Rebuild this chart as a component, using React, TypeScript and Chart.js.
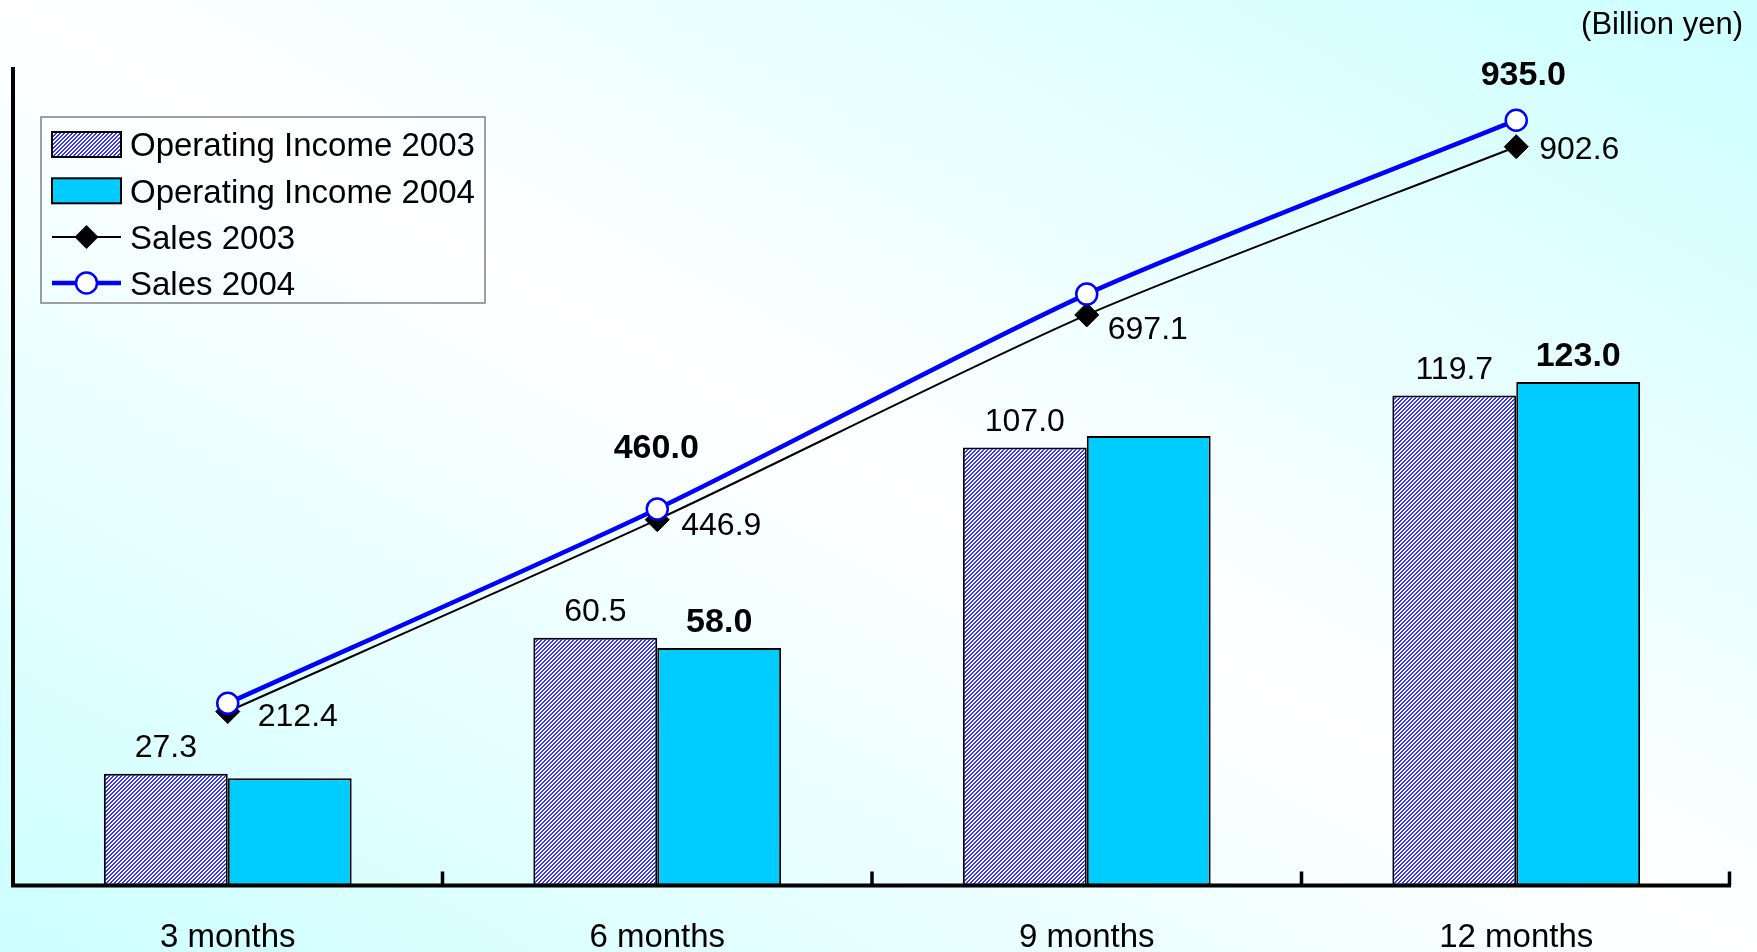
import React, { useEffect, useRef } from 'react';
import { Chart, registerables } from 'chart.js';

Chart.register(...registerables);

// ---------- data ----------
const categories = ['3 months', '6 months', '9 months', '12 months'];
const opIncome2003 = [27.3, 60.5, 107.0, 119.7];
const opIncome2004 = [26.2, 58.0, 109.8, 123.0];
const sales2003 = [212.4, 446.9, 697.1, 902.6];
const sales2004 = [222.5, 460.0, 722.5, 935.0];
const seriesNames = ['Operating Income 2003', 'Operating Income 2004', 'Sales 2003', 'Sales 2004'];
const showOp2004Label = [false, true, false, true];
const showSales2004Label = [false, true, false, true];
const barAxisMax = 200;
const salesAxisMax = 1000;
const unitText = '(Billion yen)';

// ---------- styling ----------
const FONT = '"Liberation Sans", Arial, Helvetica, sans-serif';
const W = 1757;
const H = 990;
const CYAN = '#00ccff';
const BLUE = '#0000ff';
// label offsets (pixels) for sales labels
const sales2003LabelOffset = [[30, 3], [24, 4], [21, 13], [23, 1]];
const sales2004LabelOffset = [[0, -63], [-1, -63], [0, -55], [7, -47]];

function f(size: number, bold = false) {
  return `${bold ? 'bold ' : ''}${size}px ${FONT}`;
}

function makeHatch(): CanvasPattern | string {
  const c = document.createElement('canvas');
  c.width = 4;
  c.height = 4;
  const g = c.getContext('2d');
  if (!g) return '#9999ff';
  g.fillStyle = '#ffffff';
  g.fillRect(0, 0, 4, 4);
  g.fillStyle = '#3333ff';
  for (let y = 0; y < 4; y++) {
    for (let x = 0; x < 4; x++) {
      if ((x + y) % 4 < 2) g.fillRect(x, y, 1, 1);
    }
  }
  const p = g.createPattern(c, 'repeat');
  return p || '#9999ff';
}

function drawCenteredText(ctx: CanvasRenderingContext2D, text: string, x: number, cy: number, size: number, bold: boolean, align: CanvasTextAlign) {
  ctx.font = f(size, bold);
  ctx.textAlign = align;
  ctx.textBaseline = 'alphabetic';
  ctx.fillStyle = '#000';
  ctx.fillText(text, x, cy + size * 0.716 / 2);
}

export default function App() {
  const ref = useRef<HTMLCanvasElement | null>(null);

  useEffect(() => {
    document.body.style.margin = '0';
    const canvas = ref.current;
    if (!canvas) return;
    const hatch = makeHatch();

    const overlay = {
      id: 'overlay',
      afterDatasetsDraw(chart: any) {
        const ctx: CanvasRenderingContext2D = chart.ctx;
        const { left, right, top, bottom } = chart.chartArea;
        const xs = chart.scales.x;
        ctx.save();
        // axes
        ctx.strokeStyle = '#000';
        ctx.lineWidth = 4;
        ctx.beginPath();
        ctx.moveTo(left, top);
        ctx.lineTo(left, bottom + 2);
        ctx.moveTo(left - 2, bottom);
        ctx.lineTo(right, bottom);
        ctx.stroke();
        ctx.lineWidth = 3.5;
        ctx.beginPath();
        for (let i = 1; i <= categories.length; i++) {
          const bx = i < categories.length
            ? (xs.getPixelForTick(i - 1) + xs.getPixelForTick(i)) / 2
            : right - 1.5;
          ctx.moveTo(bx, bottom);
          ctx.lineTo(bx, bottom - 14);
        }
        ctx.stroke();

        // bar labels
        const m0 = chart.getDatasetMeta(2);
        const m1 = chart.getDatasetMeta(3);
        m0.data.forEach((el: any, i: number) => {
          drawCenteredText(ctx, opIncome2003[i].toFixed(1), el.x, el.y - 28, 32, false, 'center');
        });
        m1.data.forEach((el: any, i: number) => {
          if (!showOp2004Label[i]) return;
          drawCenteredText(ctx, opIncome2004[i].toFixed(1), el.x, el.y - 28, 34, true, 'center');
        });
        // sales labels
        const s03 = chart.getDatasetMeta(1);
        const s04 = chart.getDatasetMeta(0);
        s03.data.forEach((el: any, i: number) => {
          const [dx, dy] = sales2003LabelOffset[i];
          drawCenteredText(ctx, sales2003[i].toFixed(1), el.x + dx, el.y + dy, 32, false, 'left');
        });
        s04.data.forEach((el: any, i: number) => {
          if (!showSales2004Label[i]) return;
          const [dx, dy] = sales2004LabelOffset[i];
          drawCenteredText(ctx, sales2004[i].toFixed(1), el.x + dx, el.y + dy, 34, true, 'center');
        });

        // unit text
        drawCenteredText(ctx, unitText, 1743, 23, 31, false, 'right');

        // legend
        const lx = 41, ly = 117, lw = 444, lh = 186;
        ctx.strokeStyle = '#808080';
        ctx.lineWidth = 1.5;
        ctx.strokeRect(lx, ly, lw, lh);
        const rowY = [144.5, 190.8, 237, 283];
        const sx0 = 52, sx1 = 121, smid = 86.5;
        // swatch 1
        ctx.fillStyle = hatch as any;
        ctx.fillRect(sx0, rowY[0] - 12.5, sx1 - sx0, 25);
        ctx.strokeStyle = '#000';
        ctx.lineWidth = 2;
        ctx.strokeRect(sx0, rowY[0] - 12.5, sx1 - sx0, 25);
        // swatch 2
        ctx.fillStyle = CYAN;
        ctx.fillRect(sx0, rowY[1] - 12.5, sx1 - sx0, 25);
        ctx.strokeRect(sx0, rowY[1] - 12.5, sx1 - sx0, 25);
        // line 3
        ctx.beginPath();
        ctx.moveTo(sx0, rowY[2]);
        ctx.lineTo(sx1, rowY[2]);
        ctx.strokeStyle = '#000';
        ctx.lineWidth = 2;
        ctx.stroke();
        ctx.beginPath();
        ctx.moveTo(smid - 12, rowY[2]);
        ctx.lineTo(smid, rowY[2] - 12);
        ctx.lineTo(smid + 12, rowY[2]);
        ctx.lineTo(smid, rowY[2] + 12);
        ctx.closePath();
        ctx.fillStyle = '#000';
        ctx.fill();
        // line 4
        ctx.beginPath();
        ctx.moveTo(sx0, rowY[3]);
        ctx.lineTo(sx1, rowY[3]);
        ctx.strokeStyle = BLUE;
        ctx.lineWidth = 4.5;
        ctx.stroke();
        ctx.beginPath();
        ctx.arc(smid, rowY[3], 10.5, 0, Math.PI * 2);
        ctx.fillStyle = '#fff';
        ctx.fill();
        ctx.lineWidth = 2.5;
        ctx.strokeStyle = BLUE;
        ctx.stroke();
        seriesNames.forEach((name, i) => {
          drawCenteredText(ctx, name, 130, rowY[i], 33, false, 'left');
        });
        ctx.restore();
      },
    };

    const chart = new Chart(canvas, {
      type: 'bar',
      data: {
        labels: categories,
        datasets: [
          {
            type: 'line',
            label: seriesNames[3],
            data: sales2004,
            yAxisID: 'ySales',
            borderColor: BLUE,
            borderWidth: 4.5,
            pointStyle: 'circle',
            pointRadius: 10.5,
            pointBackgroundColor: '#ffffff',
            pointBorderColor: BLUE,
            pointBorderWidth: 2.5,
            tension: 0.25,
            fill: false,
            order: 0,
          },
          {
            type: 'line',
            label: seriesNames[2],
            data: sales2003,
            yAxisID: 'ySales',
            borderColor: '#000000',
            borderWidth: 2,
            pointStyle: 'rectRot',
            pointRadius: 12,
            pointBackgroundColor: '#000000',
            pointBorderColor: '#000000',
            pointBorderWidth: 1,
            tension: 0.25,
            fill: false,
            order: 1,
          },
          {
            type: 'bar',
            label: seriesNames[0],
            data: opIncome2003,
            yAxisID: 'yBar',
            backgroundColor: hatch as any,
            borderColor: '#000000',
            borderWidth: 2,
            borderSkipped: false,
            categoryPercentage: 0.577,
            barPercentage: 1,
            order: 2,
          },
          {
            type: 'bar',
            label: seriesNames[1],
            data: opIncome2004,
            yAxisID: 'yBar',
            backgroundColor: CYAN,
            borderColor: '#000000',
            borderWidth: 2,
            borderSkipped: false,
            categoryPercentage: 0.577,
            barPercentage: 1,
            order: 3,
          },
        ] as any,
      },
      options: {
        responsive: false,
        animation: false,
        devicePixelRatio: 1,
        layout: { padding: { left: 13, right: 26, top: 67, bottom: 0 } },
        plugins: {
          legend: { display: false },
          tooltip: { enabled: false },
          title: { display: false },
        },
        scales: {
          x: {
            type: 'category',
            offset: true,
            grid: { display: false, drawTicks: false },
            border: { display: false },
            ticks: {
              color: '#000',
              font: { family: FONT, size: 33, lineHeight: 1.2 },
              padding: 32.5,
              maxRotation: 0,
              autoSkip: false,
            },
          },
          yBar: { type: 'linear', display: false, min: 0, max: barAxisMax, position: 'left' },
          ySales: { type: 'linear', display: false, min: 0, max: salesAxisMax, position: 'right' },
        },
      } as any,
      plugins: [overlay],
    });
    return () => chart.destroy();
  }, []);

  return (
    <div
      style={{
        position: 'fixed',
        left: 0,
        top: 0,
        width: W,
        height: 952,
        overflow: 'hidden',
        background: 'linear-gradient(to top right, #ccffff 0%, #ffffff 50%, #ccffff 100%)',
      }}
    >
      <canvas ref={ref} width={W} height={H} style={{ display: 'block', width: W, height: H }} />
    </div>
  );
}
